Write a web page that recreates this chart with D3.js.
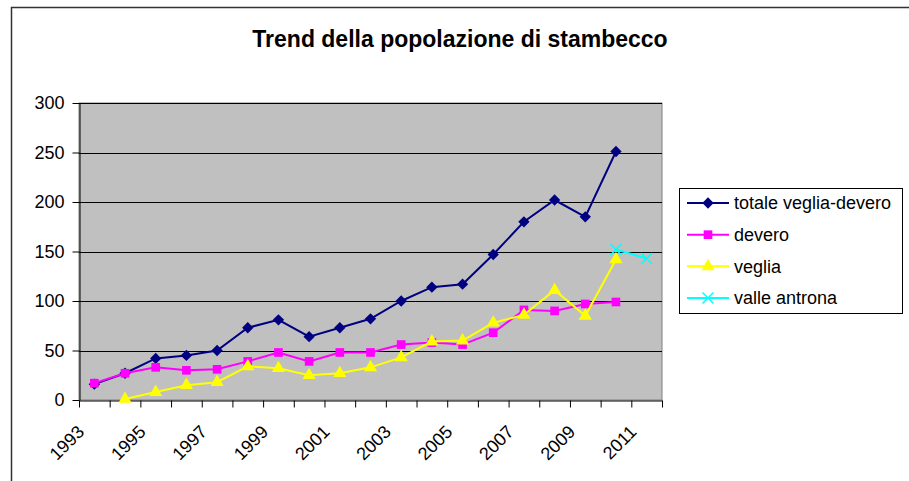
<!DOCTYPE html>
<html>
<head>
<meta charset="utf-8">
<script src="https://cdn.jsdelivr.net/npm/d3@7"></script>
<style>
  body { margin: 0; background: #fff; }
  svg { display: block; font-family: "Liberation Sans", Arial, sans-serif; }
</style>
</head>
<body>
<svg width="909" height="481"></svg>
<script>
const years = d3.range(1993, 2012)
const yTicks = [0, 50, 100, 150, 200, 250, 300]
const xLabels = [1993, 1995, 1997, 1999, 2001, 2003, 2005, 2007, 2009, 2011]

const totale = [16, 27, 42, 45, 50, 73, 81, 64, 73, 82, 100, 114, 117, 147, 180, 202, 185, 251, null]
const devero = [17, 27, 33, 30, 31, 39, 48, 39, 48, 48, 56, 58, 56, 68, 91, 90, 97, 99, null]
const veglia = [null, 1, 8, 15, 18, 34, 32, 25, 27, 33, 43, 59, 60, 78, 86, 111, 85, 142, null]
const antrona = [null, null, null, null, null, null, null, null, null, null, null, null, null, null, null, null, null, 152, 143]

const series = [
  { name: 'totale veglia-devero', values: totale, color: '#000080', marker: 'diamond' },
  { name: 'devero', values: devero, color: '#ff00ff', marker: 'square' },
  { name: 'veglia', values: veglia, color: '#ffff00', marker: 'triangle' },
  { name: 'valle antrona', values: antrona, color: '#00ffff', marker: 'x' }
]

const plot = { left: 79, right: 662, top: 103, bottom: 400 }

const svg = d3.select('svg')

// chart border (cropped at right/bottom)
svg.append('rect')
  .attr('x', 11.5).attr('y', 7.5)
  .attr('width', 1000).attr('height', 1000)
  .attr('fill', 'none').attr('stroke', '#333').attr('stroke-width', 1.5)

// title
svg.append('text')
  .attr('x', 460).attr('y', 47)
  .attr('text-anchor', 'middle')
  .style('font-size', '23px').style('font-weight', 'bold')
  .text('Trend della popolazione di stambecco')

const xBand = d3.scaleBand()
  .domain(years)
  .range([plot.left, plot.right])

const xEdge = d3.scaleLinear()
  .domain([0, years.length])
  .range([plot.left, plot.right])

const yScale = d3.scaleLinear()
  .domain([0, 300])
  .range([plot.bottom, plot.top])

const cx = i => xBand(years[i]) + xBand.bandwidth() / 2

// plot area
svg.append('rect')
  .attr('x', plot.left).attr('y', plot.top)
  .attr('width', plot.right - plot.left).attr('height', plot.bottom - plot.top)
  .attr('fill', '#c0c0c0').attr('stroke', '#808080').attr('stroke-width', 1)

// gridlines
svg.append('g')
  .selectAll('line')
  .data(yTicks.filter(d => d > 0))
  .enter().append('line')
  .attr('x1', plot.left).attr('x2', plot.right)
  .attr('y1', d => Math.round(yScale(d)) + 0.5)
  .attr('y2', d => Math.round(yScale(d)) + 0.5)
  .attr('stroke', '#000').attr('stroke-width', 1)

// y axis
const yAxis = d3.axisLeft(yScale)
  .tickValues(yTicks)
  .tickSize(7)
  .tickPadding(8)
  .tickSizeOuter(0)

const gy = svg.append('g')
  .attr('transform', `translate(${plot.left + 0.5}, 0)`)
  .call(yAxis)
gy.selectAll('text').style('font-size', '18px').attr('fill', '#000').style('font-family', null)
gy.select('.domain').attr('stroke', '#000')

// x axis (ticks between categories)
const xAxis = d3.axisBottom(xEdge)
  .tickValues(d3.range(years.length + 1))
  .tickSize(7)
  .tickSizeOuter(0)
  .tickFormat('')

const gx = svg.append('g')
  .attr('transform', `translate(0, ${plot.bottom + 0.5})`)
  .call(xAxis)
gx.select('.domain').attr('stroke', '#000')

svg.append('g')
  .selectAll('text')
  .data(xLabels)
  .enter().append('text')
  .attr('transform', d => `translate(${cx(years.indexOf(d)) - 9}, 433) rotate(-45)`)
  .attr('text-anchor', 'end')
  .style('font-size', '18px')
  .text(d => d)

// markers
const markerPath = (type) => {
  if (type === 'diamond') return d3.symbol(d3.symbolSquare, 64)()
  if (type === 'square') return d3.symbol(d3.symbolSquare, 75)()
  if (type === 'triangle') return d3.symbol(d3.symbolTriangle, 75)()
  return d3.symbol(d3.symbolX, 80)()
}
const markerRot = type => type === 'diamond' ? ' rotate(45)' : ''

const line = d3.line()
  .defined(d => d.v != null)
  .x(d => cx(d.i))
  .y(d => yScale(d.v))

series.forEach(s => {
  const pts = s.values.map((v, i) => ({ v, i }))
  const g = svg.append('g')
  g.append('path')
    .datum(pts)
    .attr('d', line)
    .attr('fill', 'none')
    .attr('stroke', s.color)
    .attr('stroke-width', 2)

  g.selectAll('path.m')
    .data(pts.filter(d => d.v != null))
    .enter().append('path')
    .attr('class', 'm')
    .attr('d', markerPath(s.marker))
    .attr('transform', d => `translate(${cx(d.i)}, ${yScale(d.v)})` + markerRot(s.marker))
    .attr('fill', s.marker === 'x' ? 'none' : s.color)
    .attr('stroke', s.color)
    .attr('stroke-width', s.marker === 'x' ? 1.5 : 0)
})

// legend
const legend = svg.append('g')
legend.append('rect')
  .attr('x', 679.5).attr('y', 188.5)
  .attr('width', 223).attr('height', 125)
  .attr('fill', '#fff').attr('stroke', '#000').attr('stroke-width', 1)

const legendY = d3.scalePoint()
  .domain(series.map(s => s.name))
  .range([203, 298])

series.forEach(s => {
  const y = legendY(s.name)
  legend.append('line')
    .attr('x1', 687).attr('x2', 729)
    .attr('y1', y).attr('y2', y)
    .attr('stroke', s.color).attr('stroke-width', 2)
  legend.append('path')
    .attr('d', markerPath(s.marker))
    .attr('transform', `translate(708, ${y})` + markerRot(s.marker))
    .attr('fill', s.marker === 'x' ? 'none' : s.color)
    .attr('stroke', s.color)
    .attr('stroke-width', s.marker === 'x' ? 1.5 : 0)
  legend.append('text')
    .attr('x', 734).attr('y', y)
    .attr('dy', '0.35em')
    .style('font-size', '18px')
    .text(s.name)
})
</script>
</body>
</html>
